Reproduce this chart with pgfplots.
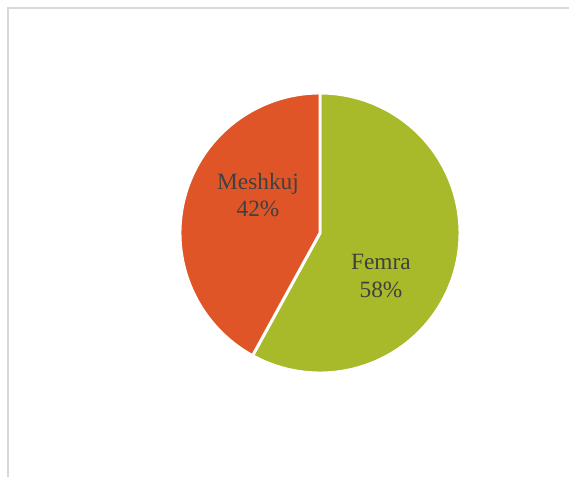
\documentclass[border=0pt]{standalone}
\usepackage{pgfplots}
\pgfplotsset{compat=1.18}
\usepackage{pgfplotstable}
\usepgfplotslibrary{polar}
\usepackage{fontspec}
\setmainfont{Liberation Serif}
\definecolor{femra}{HTML}{A8B92A}
\definecolor{meshkuj}{HTML}{E05527}
\definecolor{lbl}{HTML}{404040}
\definecolor{frame}{HTML}{D9D9D9}
\pgfplotstableread{
label value
Femra 58
Meshkuj 42
}\piedata
\begin{document}
\begin{tikzpicture}[x=1pt,y=1pt]
\pgfplotstablegetelem{0}{value}\of\piedata \let\vF\pgfplotsretval
\pgfplotstablegetelem{1}{value}\of\piedata \let\vM\pgfplotsretval
\pgfmathsetmacro\aF{90-\vF*3.6}
\pgfmathsetmacro\aM{90+\vM*3.6}
\useasboundingbox (0,0) rectangle (426.75,-357.75);
\draw[frame, line width=1.1pt] (6,-357.75) -- (6,-6) -- (426.75,-6);
\begin{polaraxis}[
  at={(240pt,-174.75pt)}, anchor=center,
  scale only axis, width=210pt, height=210pt,
  ymin=0, ymax=1, hide axis, clip=false,
]
\addplot[fill=femra, draw=white, line width=2.2pt, domain=\aF:90, samples=120] {1} -- (axis cs:0,0) -- cycle;
\addplot[fill=meshkuj, draw=white, line width=2.2pt, domain=90:\aM, samples=120] {1} -- (axis cs:0,0) -- cycle;
\node[lbl, align=center, inner sep=0pt, font=\fontsize{17.5}{20.6}\selectfont] at (axis cs:148.5,0.519) {Meshkuj\\\vM\%};
\node[lbl, align=center, inner sep=0pt, font=\fontsize{17.5}{20.6}\selectfont] at (axis cs:-35.2,0.533) {Femra\\\vF\%};
\end{polaraxis}
\end{tikzpicture}
\end{document}
